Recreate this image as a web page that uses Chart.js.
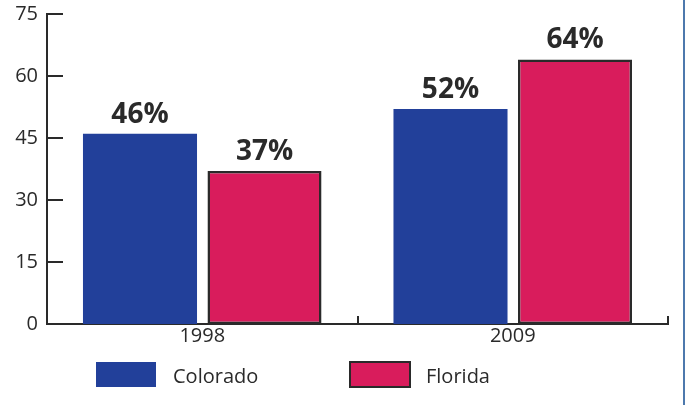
<!DOCTYPE html>
<html>
<head>
<meta charset="utf-8">
<script src="https://cdn.jsdelivr.net/npm/chart.js@4"></script>
<style>
  html, body { margin: 0; padding: 0; background: #fff; }
  #wrap { width: 686px; height: 405px; position: relative; }
</style>
</head>
<body>
<div id="wrap"><canvas id="myChart" width="686" height="405"></canvas></div>
<script>
const years = ["1998", "2009"];
const colorado = [46, 52];
const florida = [37, 64];
const yTicks = [0, 15, 30, 45, 60, 75];

const FONT = "'Open Sans', 'Noto Sans', sans-serif";
const INK = "#2a2a2a";

// draws % labels, inward y ticks, upward x ticks, legend and right frame
const extras = {
  id: "extras",
  afterDatasetsDraw(chart) {
    const ctx = chart.ctx;
    const x = chart.scales.x;
    const y = chart.scales.y;
    const area = chart.chartArea;

    ctx.save();
    ctx.font = "bold 28px " + FONT;
    ctx.fillStyle = INK;
    ctx.textAlign = "center";
    ctx.textBaseline = "bottom";
    chart.data.datasets.forEach((ds, i) => {
      chart.getDatasetMeta(i).data.forEach((bar, j) => {
        ctx.fillText(ds.data[j] + "%", bar.x, bar.y - 5);
      });
    });

    ctx.strokeStyle = INK;
    ctx.lineWidth = 2;
    yTicks.forEach((v) => {
      const py = Math.round(y.getPixelForValue(v));
      ctx.beginPath();
      ctx.moveTo(area.left, py);
      ctx.lineTo(area.left + 16, py);
      ctx.stroke();
    });

    // category boundaries on the x axis
    const step = x.getPixelForTick(1) - x.getPixelForTick(0);
    years.forEach((yr, i) => {
      const px = Math.round(x.getPixelForTick(i) + step / 2);
      ctx.beginPath();
      ctx.moveTo(px, area.bottom + 1);
      ctx.lineTo(px, area.bottom - 8);
      ctx.stroke();
    });

    // legend
    const items = [
      { ds: chart.data.datasets[0], bx: 96, tx: 173 },
      { ds: chart.data.datasets[1], bx: 350, tx: 426 },
    ];
    ctx.font = "20px " + FONT;
    ctx.textAlign = "left";
    ctx.textBaseline = "middle";
    items.forEach((it) => {
      ctx.fillStyle = it.ds.backgroundColor;
      ctx.fillRect(it.bx, 362, 60, 25);
      if (it.ds.borderWidth) {
        ctx.strokeStyle = it.ds.borderColor;
        ctx.lineWidth = 2;
        ctx.strokeRect(it.bx, 362, 60, 25);
      }
      ctx.fillStyle = INK;
      ctx.fillText(it.ds.label, it.tx, 377);
    });

    ctx.strokeStyle = "#4d79ad";
    ctx.lineWidth = 2;
    ctx.beginPath();
    ctx.moveTo(684, 0);
    ctx.lineTo(684, 405);
    ctx.stroke();
    ctx.restore();
  },
};

const data = {
  labels: years,
  datasets: [
    {
      label: "Colorado",
      data: colorado,
      backgroundColor: "#22409a",
      borderWidth: 0,
    },
    {
      label: "Florida",
      data: florida,
      backgroundColor: "#d91c5c",
      borderColor: "#2a2a2a",
      borderWidth: 2.5,
      borderSkipped: false,
    },
  ],
};

const config = {
  type: "bar",
  data,
  options: {
    responsive: false,
    animation: false,
    categoryPercentage: 0.802,
    barPercentage: 0.916,
    layout: { padding: { top: 14, right: 18, bottom: 51, left: 0 } },
    plugins: {
      legend: { display: false },
      tooltip: { enabled: false },
    },
    scales: {
      x: {
        grid: { display: false, drawTicks: false },
        border: { display: true, color: INK, width: 2 },
        ticks: { color: INK, font: { family: FONT, size: 20 }, padding: 0 },
        afterFit: (s) => { s.height = 30; s.paddingLeft = 0; s.paddingRight = 0; },
      },
      y: {
        min: 0,
        max: 75,
        afterBuildTicks: (s) => { s.ticks = yTicks.map((v) => ({ value: v })); },
        grid: { display: false, drawTicks: false },
        border: { display: true, color: INK, width: 2 },
        ticks: { color: INK, font: { family: FONT, size: 20 }, padding: 9 },
        afterFit: (s) => { s.width = 47; s.paddingTop = 0; s.paddingBottom = 0; },
      },
    },
  },
  plugins: [extras],
};

const myChart = new Chart(document.getElementById("myChart"), config);
</script>
</body>
</html>
